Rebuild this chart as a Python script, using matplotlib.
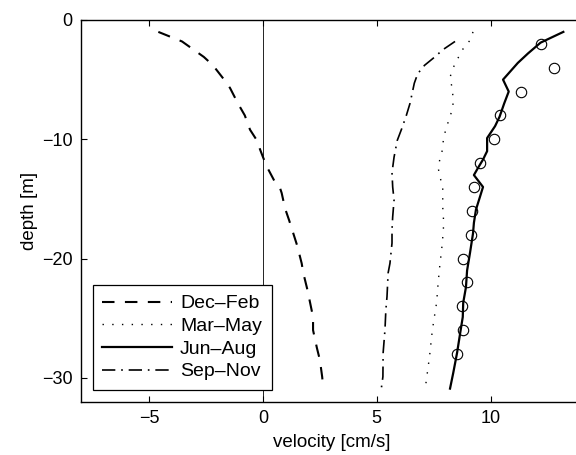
import matplotlib
matplotlib.use("Agg")
import matplotlib.pyplot as plt

plt.rcParams['font.family'] = ['Liberation Sans', 'DejaVu Sans']

# Dec-Feb
djf_v = [-4.6, -3.56, -2.6, -2.2, -1.75, -1.45, -1.1, -0.8, -0.57, -0.3, 0.0, 0.17, 0.53, 0.75,
         0.82, 0.97, 1.15, 1.5, 1.7, 1.77, 1.95, 2.07, 2.2, 2.2, 2.37, 2.5, 2.6, 2.65]
djf_z = [-1.0, -1.8, -3.1, -3.8, -4.9, -5.7, -7.0, -8.0, -9.2, -10.0, -11.5, -12.3, -13.6, -14.1,
         -14.5, -15.8, -16.8, -18.9, -20.4, -21.2, -22.6, -23.7, -24.9, -26.0, -27.5, -28.5, -29.9, -30.9]

# Mar-May
mam_v = [9.23, 9.1, 8.8, 8.57, 8.36, 8.22, 8.3, 8.35, 8.35, 8.22, 8.08, 7.93, 7.9, 7.78, 7.7, 7.77,
         7.9, 7.9, 7.9, 7.93, 7.93, 7.85, 7.78, 7.7, 7.63, 7.49, 7.42, 7.32, 7.2, 7.13]
mam_z = [-1.0, -1.7, -2.4, -3.2, -4.0, -4.8, -5.6, -6.4, -7.3, -8.1, -8.9, -9.9, -10.8, -11.6, -12.4, -13.1,
         -14.0, -14.8, -15.7, -16.6, -17.6, -19.3, -20.4, -22.0, -23.7, -25.4, -26.4, -28.2, -29.9, -30.9]

# Jun-Aug
jja_v = [13.2, 12.2, 11.65, 11.2, 10.55, 10.8, 10.6, 10.4, 10.2, 9.85, 9.85, 9.67, 9.45, 9.27, 9.67,
         9.54, 9.36, 9.27, 9.23, 9.1, 8.97, 8.92, 8.8, 8.78, 8.67, 8.53, 8.36, 8.22]
jja_z = [-1.0, -1.9, -2.8, -3.6, -5.0, -6.0, -7.0, -8.1, -8.9, -9.9, -11.0, -11.7, -12.4, -13.0, -14.0,
         -14.8, -15.9, -17.0, -17.9, -19.5, -21.0, -22.4, -23.7, -24.9, -26.2, -27.9, -29.6, -30.9]

# Sep-Nov
son_v = [8.44, 7.9, 7.55, 7.1, 6.8, 6.65, 6.46, 6.3, 6.1, 5.9, 5.76, 5.67, 5.7, 5.76, 5.7, 5.67,
         5.67, 5.58, 5.5, 5.45, 5.4, 5.36, 5.28, 5.27, 5.2]
son_z = [-1.8, -2.5, -3.1, -3.8, -4.5, -5.3, -7.0, -8.0, -9.1, -10.1, -11.5, -12.8, -14.0, -15.1, -16.5, -17.6,
         -18.7, -20.4, -21.2, -23.2, -24.3, -26.0, -27.9, -29.9, -30.9]

# Observations (circles)
obs_v = [12.2, 12.8, 11.35, 10.4, 10.15, 9.54, 9.27, 9.2, 9.14, 8.8, 8.97, 8.75, 8.78, 8.53]
obs_z = [-2, -4, -6, -8, -10, -12, -14, -16, -18, -20, -22, -24, -26, -28]

labels = ['Dec\u2013Feb', 'Mar\u2013May', 'Jun\u2013Aug', 'Sep\u2013Nov']

fig = plt.figure(figsize=(5.76, 4.55), dpi=100)
ax = fig.add_axes([0.1406, 0.1171, 0.869, 0.839])

ax.axvline(0, color='black', lw=0.6, zorder=1)
ax.plot(djf_v, djf_z, color='black', lw=1.5, linestyle=(0, (6, 5)), label=labels[0])
ax.plot(mam_v, mam_z, color='black', lw=1.0, linestyle=(0, (1, 6)), label=labels[1])
ax.plot(jja_v, jja_z, color='black', lw=1.6, linestyle='-', label=labels[2])
ax.plot(son_v, son_z, color='black', lw=1.2, linestyle=(0, (8, 3.5, 1, 3.5)), label=labels[3])
ax.plot(obs_v, obs_z, linestyle='none', marker='o', ms=7.5, mfc='none', mec='black', mew=0.8)

ax.set_xlim(-8, 14)
ax.set_ylim(-32, 0)
ax.set_xticks([-5, 0, 5, 10])
ax.set_yticks([0, -10, -20, -30])
ax.tick_params(direction='in', length=4, width=0.8, labelsize=13, top=True, right=True, pad=6)
for s in ['left', 'bottom', 'top']:
    ax.spines[s].set_linewidth(1.0)
ax.spines['right'].set_visible(False)

ax.set_xlabel('velocity [cm/s]', fontsize=13.5, labelpad=5)
ax.set_ylabel('depth [m]', fontsize=13.5, labelpad=3)

leg = ax.legend(loc='lower left', fontsize=14, handlelength=3.6, handletextpad=0.4,
                labelspacing=0.26, borderpad=0.5, borderaxespad=0.6, fancybox=False,
                framealpha=1, edgecolor='black')
leg.get_frame().set_linewidth(0.9)

fig.savefig('out.png', dpi=100)
